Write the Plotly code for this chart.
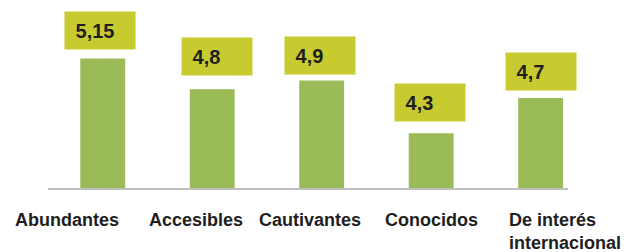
import plotly.graph_objects as go

categories = ["Abundantes", "Accesibles", "Cautivantes", "Conocidos", "De interés<br>internacional"]
values = [5.15, 4.8, 4.9, 4.3, 4.7]
value_labels = ["5,15", "4,8", "4,9", "4,3", "4,7"]

# layout tweaks (pixel offsets), kept apart from the data
box_dx = [-3, 5, -2, -1, 0]
box_dy = [9, 13, 6, 11, 7]
label_dx = [-36, -16, -12, 0, -34]

BAR = "#9bbb59"
BOX = "#c8cb30"
TXT = "#1e1e1e"
FONT = "Liberation Sans, Arial, sans-serif"

fig = go.Figure(go.Bar(
    x=list(range(len(categories))), y=values,
    marker=dict(color=BAR, line=dict(width=0)),
    hoverinfo="skip",
))

annotations = []
for i, (v, t) in enumerate(zip(values, value_labels)):
    annotations.append(dict(
        x=i, y=v, xref="x", yref="y", text="\u00a0" + t,
        showarrow=False, xanchor="center", yanchor="bottom",
        xshift=box_dx[i], yshift=box_dy[i],
        width=60, height=27, borderpad=5, align="left", valign="middle",
        bgcolor=BOX, font=dict(family=FONT, size=20, color=TXT, weight="bold"),
    ))
for i, c in enumerate(categories):
    last = "<br>" in c
    annotations.append(dict(
        x=i, y=0, xref="x", yref="paper", text=c, showarrow=False,
        xanchor="left" if last else "center", yanchor="top",
        xshift=label_dx[i], yshift=-20,
        align="left", font=dict(family=FONT, size=18, color=TXT, weight="bold"),
    ))

fig.update_layout(
    width=630, height=252,
    margin=dict(l=48, r=62, t=10, b=64),
    paper_bgcolor="white", plot_bgcolor="white",
    bargap=0.59, showlegend=False,
    xaxis=dict(range=[-0.5, 4.25], showticklabels=False, ticks="",
               showgrid=False, zeroline=False, showline=True,
               linecolor="#c0c0c0", linewidth=1.5),
    yaxis=dict(range=[3.676, 5.703], visible=False, showgrid=False, zeroline=False),
    annotations=annotations,
)

fig.write_html("out.html", config={"displayModeBar": False},
               post_script="document.body.style.margin='0';document.body.style.overflow='hidden';")
